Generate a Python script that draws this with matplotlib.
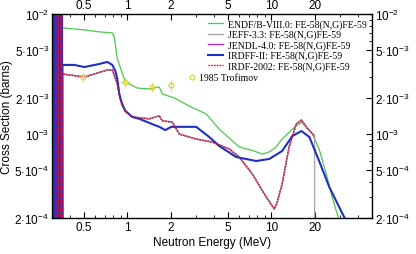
import matplotlib
matplotlib.use("Agg")
import matplotlib.pyplot as plt
from matplotlib.ticker import FixedLocator, NullFormatter, FixedFormatter
from matplotlib.lines import Line2D

plt.rcParams['font.family'] = ['Liberation Sans', 'DejaVu Sans']
plt.rcParams['mathtext.fontset'] = 'custom'
plt.rcParams['mathtext.rm'] = 'Liberation Sans'
plt.rcParams['mathtext.it'] = 'Liberation Sans:italic'

# resonance region (dense structure below ~0.355 MeV)
band_e = [0.300, 0.302, 0.304, 0.306, 0.308, 0.310, 0.312, 0.314, 0.316, 0.318,
          0.320, 0.322, 0.324, 0.326, 0.328, 0.330, 0.332, 0.334, 0.336, 0.338,
          0.340, 0.342, 0.344, 0.346, 0.348, 0.350, 0.352, 0.354]
band_s = [1.2e-2, 1.5e-4, 1.2e-2, 1.5e-4, 1.2e-2, 1.5e-4, 1.2e-2, 1.5e-4, 1.2e-2, 1.5e-4,
          1.2e-2, 1.5e-4, 1.2e-2, 1.5e-4, 1.2e-2, 1.5e-4, 1.2e-2, 1.5e-4, 1.2e-2, 1.5e-4,
          1.2e-2, 1.5e-4, 1.2e-2, 1.5e-4, 1.2e-2, 1.5e-4, 1.2e-2, 1.5e-4]
# IRDF-2002 / JENDL-4.0 resonances: thin vertical strokes
band2_e = [0.301, 0.301, 0.303, 0.303, 0.320, 0.320, 0.330, 0.330, 0.334, 0.334,
           0.346, 0.346, 0.352, 0.352]
band2_s = [1.2e-2, 1.5e-4, 1.5e-4, 1.2e-2, 1.2e-2, 1.5e-4, 1.5e-4, 1.2e-2, 1.2e-2, 1.5e-4,
           1.5e-4, 1.2e-2, 1.2e-2, 1.5e-4]

# ENDF/B-VIII.0
endf_e = [0.354, 0.503, 0.640, 0.787, 0.812, 0.853, 0.969, 1.173, 1.422, 1.668, 1.750,
          2.12, 2.70, 3.54, 4.35, 5.99, 7.62, 8.66, 9.68, 10.8, 11.9, 14.0, 16.2,
          19.3, 21.5, 24.1, 26.5, 29.7, 40.0]
endf_s = [7.66e-3, 7.38e-3, 7.10e-3, 6.97e-3, 6.44e-3, 4.23e-3, 2.72e-3, 2.42e-3, 2.38e-3,
          2.47e-3, 2.16e-3, 2.00e-3, 1.71e-3, 1.47e-3, 1.10e-3, 7.82e-4, 7.23e-4, 6.82e-4,
          7.10e-4, 7.82e-4, 9.10e-4, 1.10e-3, 1.26e-3, 1.00e-3, 7.52e-4, 4.66e-4,
          2.99e-4, 1.89e-4, 5.0e-5]

# IRDFF-II
irdff_e = [0.354, 0.428, 0.503, 0.640, 0.727, 0.787, 0.826, 0.853, 0.880, 0.923, 0.969,
           1.083, 1.211, 1.377, 1.492, 1.668, 1.836, 2.02, 3.01, 3.71, 4.35, 5.71, 7.87,
           9.68, 11.9, 14.0, 16.2, 18.4, 21.5, 25.3, 32.6, 40.0]
irdff_s = [3.77e-3, 3.77e-3, 3.62e-3, 3.84e-3, 3.99e-3, 3.77e-3, 3.36e-3, 2.88e-3, 2.16e-3,
           1.75e-3, 1.56e-3, 1.39e-3, 1.34e-3, 1.26e-3, 1.21e-3, 1.15e-3, 1.08e-3, 1.15e-3,
           1.15e-3, 9.46e-4, 7.96e-4, 6.44e-4, 5.97e-4, 6.21e-4, 7.23e-4, 9.64e-4, 1.06e-3,
           9.46e-4, 5.97e-4, 3.62e-4, 1.96e-4, 1.2e-4]

# IRDF-2002 (JEFF-3.3 and JENDL-4.0 lie underneath)
irdf_e = [0.354, 0.503, 0.727, 0.787, 0.853, 0.894, 0.969, 1.083, 1.422, 1.668, 1.750,
          2.05, 2.30, 3.01, 3.89, 5.11, 5.99, 7.38, 9.23, 10.5, 11.0, 11.9, 13.3, 14.9,
          16.2, 17.8, 20.0]
irdf_s = [3.17e-3, 2.99e-3, 3.42e-3, 3.42e-3, 2.62e-3, 1.96e-3, 1.56e-3, 1.39e-3, 1.34e-3,
          1.42e-3, 1.29e-3, 1.26e-3, 1.00e-3, 9.10e-4, 8.59e-4, 7.52e-4, 6.44e-4, 4.66e-4,
          2.99e-4, 2.38e-4, 2.72e-4, 3.84e-4, 7.82e-4, 1.21e-3, 1.31e-3, 1.12e-3, 9.64e-4]

# 1985 Trofimov
exp_e = [0.49, 0.97, 1.49, 2.0]
exp_s = [2.99e-3, 2.72e-3, 2.47e-3, 2.56e-3]
exp_de = [0.05, 0.08, 0.02, 0.02]
exp_ds = [2.6e-4, 2.8e-4, 2.4e-4, 3.0e-4]

xticks = [0.5, 1, 2, 5, 10, 20]
xlabels = ['0.5', '1', '2', '5', '10', '20']
yticks = [2e-4, 5e-4, 1e-3, 2e-3, 5e-3, 1e-2]
ylabels = ['2·10$^{-4}$', '5·10$^{-4}$', '10$^{-3}$', '2·10$^{-3}$', '5·10$^{-3}$', '10$^{-2}$']

c_green = '#4cc94c'
c_grey = '#aaaaaa'
c_purple = '#b030b0'
c_blue = '#1f2fbf'
c_red = '#d0103a'

fig, ax = plt.subplots(figsize=(4.16, 2.55), dpi=100)
fig.subplots_adjust(left=0.125, right=0.894, bottom=0.141, top=0.941)

ax.plot(endf_e, endf_s, color=c_green, lw=0.9)
ax.plot(band2_e + irdf_e, band2_s + irdf_s, color=c_purple, lw=1.0)
ax.plot(irdf_e + [20.0, 20.0], irdf_s + [9.64e-4, 1e-6], color=c_grey, lw=1.0)
ax.plot(band_e + irdff_e, band_s + irdff_s, color=c_blue, lw=1.5)
ax.plot(band2_e + irdf_e, band2_s + irdf_s, color=c_red, lw=1.0, ls=(0, (1.2, 0.8)))
ax.errorbar(exp_e, exp_s, xerr=exp_de, yerr=exp_ds, fmt='o', ms=3.5, mfc='none',
            mec='#d8d830', ecolor='#e0e070', elinewidth=0.8, capsize=0, mew=0.9)

ax.set_xscale('log')
ax.set_yscale('log')
ax.set_xlim(0.3, 50)
ax.set_ylim(2e-4, 1e-2)

ax.xaxis.set_major_locator(FixedLocator(xticks))
ax.xaxis.set_major_formatter(FixedFormatter(xlabels))
ax.xaxis.set_minor_locator(FixedLocator([0.3, 0.4, 0.6, 0.7, 0.8, 0.9, 3, 4, 6, 7, 8, 9, 30, 40]))
ax.xaxis.set_minor_formatter(NullFormatter())
ax.yaxis.set_major_locator(FixedLocator(yticks))
ax.yaxis.set_major_formatter(FixedFormatter(ylabels))
ax.yaxis.set_minor_locator(FixedLocator([3e-4, 4e-4, 6e-4, 7e-4, 8e-4, 9e-4,
                                         3e-3, 4e-3, 6e-3, 7e-3, 8e-3, 9e-3]))
ax.yaxis.set_minor_formatter(NullFormatter())
ax.tick_params(which='both', direction='in', top=True, right=True,
               labeltop=True, labelright=True, labelsize=8.5, pad=2)
ax.tick_params(which='major', length=4, width=0.8)
ax.tick_params(which='minor', length=2.5, width=0.6)
for s in ax.spines.values():
    s.set_linewidth(1.0)

ax.set_xlabel('Neutron Energy (MeV)', fontsize=8.5, labelpad=2)
ax.set_ylabel('Cross Section (barns)', fontsize=8.5, labelpad=1)

handles = [Line2D([], [], color=c_green, lw=0.9),
           Line2D([], [], color=c_grey, lw=1.0),
           Line2D([], [], color=c_purple, lw=1.0),
           Line2D([], [], color=c_blue, lw=1.5),
           Line2D([], [], color=c_red, lw=1.0, ls=(0, (1.2, 0.8)))]
labels = ['ENDF/B-VIII.0: FE-58(N,G)FE-59', 'JEFF-3.3: FE-58(N,G)FE-59',
          'JENDL-4.0: FE-58(N,G)FE-59', 'IRDFF-II: FE-58(N,G)FE-59',
          'IRDF-2002: FE-58(N,G)FE-59']
leg = ax.legend(handles, labels, loc='upper right', bbox_to_anchor=(0.985, 0.975),
                frameon=False, prop={'family': 'Liberation Serif', 'size': 7},
                handlelength=1.6, handletextpad=0.5, labelspacing=0.1, borderpad=0,
                borderaxespad=0)
ax.add_artist(leg)
exp_h = Line2D([], [], ls='none', marker='o', ms=3.5, mfc='none', mec='#d8d830', mew=0.9)
ax.legend([exp_h], ['1985 Trofimov'], loc='upper left', bbox_to_anchor=(0.43, 0.71),
          frameon=False, prop={'family': 'Liberation Serif', 'size': 7},
          handlelength=0.6, handletextpad=0.4, borderpad=0, borderaxespad=0)

fig.savefig('out.png', dpi=100)
